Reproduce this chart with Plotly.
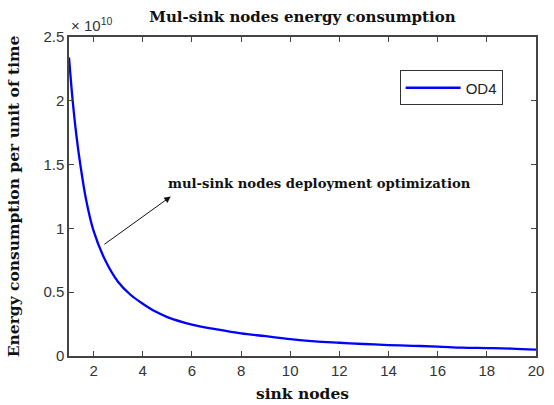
import plotly.graph_objects as go

sink_nodes = [1, 1.15, 1.3, 1.46, 1.7, 2, 2.5, 3, 3.5, 4, 4.5, 5, 6, 7, 8, 9, 10, 11, 12, 13, 14, 15, 16, 17, 18, 19, 20]
energy_e10 = [2.34, 2.0, 1.73, 1.5, 1.22, 0.98, 0.74, 0.58, 0.48, 0.41, 0.35, 0.305, 0.246, 0.209, 0.177, 0.155,
              0.132, 0.115, 0.104, 0.094, 0.086, 0.08, 0.074, 0.065, 0.062, 0.058, 0.05]
x_ticks = [2, 4, 6, 8, 10, 12, 14, 16, 18, 20]
y_ticks = [0, 0.5, 1, 1.5, 2, 2.5]
y_tick_text = ["0", "0.5", "1", "1.5", "2", "2.5"]

serif = "DejaVu Serif"
sans = "Liberation Sans, Arial"

fig = go.Figure()
fig.add_trace(go.Scatter(x=sink_nodes, y=energy_e10, mode="lines", name="OD4",
                         line=dict(color="#0000ff", width=2.3, shape="spline")))

axis_common = dict(showline=True, linecolor="#444", linewidth=1.5, mirror="ticks",
                   ticks="inside", ticklen=5, tickcolor="#444", showgrid=False, zeroline=False,
                   automargin=False,
                   tickfont=dict(family=sans, size=15, color="#333"))

fig.update_layout(
    width=554, height=405,
    margin=dict(l=69, r=18, t=37, b=49),
    paper_bgcolor="white", plot_bgcolor="white",
    title=dict(text="<b>Mul-sink nodes energy consumption</b>", x=0.546, xanchor="center",
               y=0.958, yanchor="middle", font=dict(family=serif, size=15, color="#111")),
    xaxis=dict(range=[1, 20], tickvals=x_ticks, title=dict(text="<b>sink nodes</b>", standoff=10,
               font=dict(family=serif, size=15.5, color="#111")), **axis_common),
    yaxis=dict(range=[0, 2.5], tickvals=y_ticks, ticktext=y_tick_text,
               title=dict(text="<b>Energy consumption per unit of time</b>", standoff=20,
                          font=dict(family=serif, size=15.5, color="#111")), **axis_common),
    legend=dict(x=0.708, y=0.895, xanchor="left", yanchor="top", bordercolor="#333", borderwidth=1,
                bgcolor="white", itemwidth=55, font=dict(family=sans, size=15, color="#222")),
    showlegend=True,
)

fig.add_annotation(x=5.14, y=1.25, ax=2.38, ay=0.867, xref="x", yref="y", axref="x", ayref="y",
                   text="", showarrow=True, arrowhead=2, arrowsize=1.3, arrowwidth=1, arrowcolor="#111")
fig.add_annotation(x=11.2, y=1.353, xref="x", yref="y", showarrow=False,
                   text="<b>mul-sink nodes deployment optimization</b>",
                   font=dict(family=serif, size=13.2, color="#111"))
fig.add_annotation(x=0, y=1, xref="paper", yref="paper", xanchor="left", yanchor="bottom",
                   showarrow=False, text="× 10<sup>10</sup>", yshift=1,
                   font=dict(family=sans, size=15, color="#333"))

fig.write_html("out.html", config={"displayModeBar": False},
               post_script="document.body.style.margin='0';")
